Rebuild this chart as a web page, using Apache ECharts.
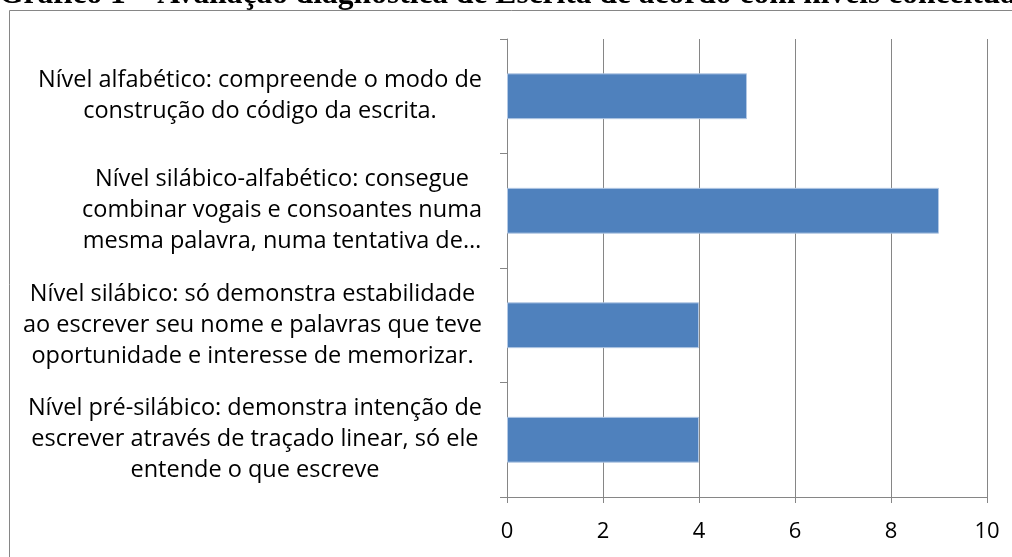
<!DOCTYPE html>
<html>
<head>
<meta charset="utf-8">
<script src="https://cdn.jsdelivr.net/npm/echarts@6/dist/echarts.min.js"></script>
<style>
    html, body { margin: 0; padding: 0; background: #fff; }
    #chart { width: 1012px; height: 557px; }
</style>
</head>
<body>
<div id="chart"></div>
<script>
    // categories listed bottom-to-top (category axis starts at the bottom)
    var levels = [
        ['Nível pré-silábico: demonstra intenção de', 'escrever através de traçado linear, só ele', 'entende o que escreve'],
        ['Nível silábico: só demonstra estabilidade', 'ao escrever seu nome e palavras que teve', 'oportunidade e interesse de memorizar.'],
        ['Nível silábico-alfabético: consegue', 'combinar vogais e consoantes numa', 'mesma palavra, numa tentativa de…'],
        ['Nível alfabético: compreende o modo de', 'construção do código da escrita.']
    ];
    var counts = [4, 4, 9, 5];
    var xTicks = [0, 2, 4, 6, 8, 10];
    var titleText = 'Gráfico 1 – Avaliação diagnóstica de Escrita de acordo com níveis conceituais';

    var labelFont = 'Open Sans';
    var gray = '#868686';

    var chart = echarts.init(document.getElementById('chart'));

    chart.setOption({
        animation: false,
        backgroundColor: '#fff',
        graphic: [
            {
                type: 'rect',
                shape: { x: 9.5, y: 10.5, width: 1100, height: 600 },
                style: { fill: 'none', stroke: gray, lineWidth: 1 },
                silent: true
            },
            {
                // title sits half outside the picture, as in the source
                type: 'text',
                x: -1,
                y: -5,
                silent: true,
                style: {
                    text: titleText,
                    fontFamily: 'Liberation Serif',
                    fontWeight: 'bold',
                    fontSize: 31.5,
                    lineHeight: 32,
                    verticalAlign: 'middle',
                    align: 'left',
                    fill: '#000'
                }
            }
        ],
        grid: {
            left: 507,
            right: 25,
            top: 39,
            bottom: 60,
            containLabel: false
        },
        xAxis: {
            type: 'value',
            min: xTicks[0],
            max: xTicks[xTicks.length - 1],
            interval: 2,
            axisLine: { show: true, lineStyle: { color: gray, width: 1 } },
            axisTick: { show: true, length: 6, lineStyle: { color: gray } },
            splitLine: { show: true, lineStyle: { color: gray, width: 1 } },
            axisLabel: {
                margin: 24,
                fontFamily: labelFont,
                fontSize: 22,
                color: '#000'
            }
        },
        yAxis: {
            type: 'category',
            data: levels.map(function (l) { return l.join('\n'); }),
            axisLine: { show: true, lineStyle: { color: gray, width: 1 } },
            axisTick: { show: true, length: 7, lineStyle: { color: gray } },
            axisLabel: {
                interval: 0,
                margin: 25,
                align: 'right',
                formatter: function (v) {
                    return v.split('\n').map(function (s) { return '{c|' + s + '}'; }).join('\n');
                },
                rich: {
                    c: {
                        align: 'center',
                        fontFamily: labelFont,
                        fontSize: 23.5,
                        lineHeight: 31,
                        color: '#000'
                    }
                }
            }
        },
        series: [
            {
                type: 'bar',
                data: counts,
                barCategoryGap: '60%',
                itemStyle: {
                    color: '#4F81BD',
                    borderColor: '#b3c8e4',
                    borderWidth: 1
                },
                silent: true
            }
        ]
    });
</script>
</body>
</html>
